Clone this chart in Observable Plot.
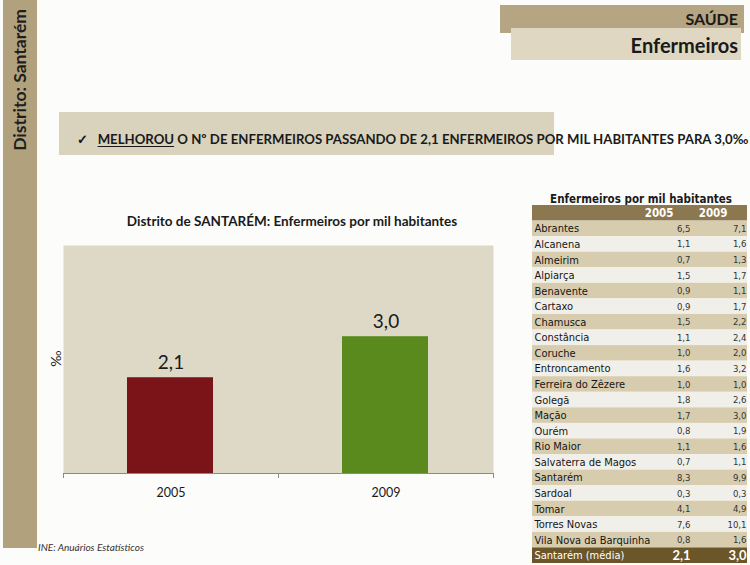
<!DOCTYPE html>
<html>
<head>
<meta charset="utf-8">
<script src="https://cdn.jsdelivr.net/npm/d3@7"></script>
<script src="https://cdn.jsdelivr.net/npm/@observablehq/plot@0.6"></script>
<style>
  html, body { margin: 0; padding: 0; background: #fcfcfa; }
  #page { position: relative; width: 750px; height: 565px; overflow: hidden; font-family: Lato, "Open Sans", sans-serif; color: #1a1a1a; }
  .abs { position: absolute; }
  svg { display: block; max-width: none !important; }
  #strip { left: 3px; top: 0; width: 34px; height: 548px; background: #b1a17d; }
  #stripText { left: 9px; top: 9px; writing-mode: vertical-rl; transform: rotate(180deg); font-weight: 700; font-size: 17.5px; color: #1e1e1e; }
  #box1 { left: 500px; top: 5px; width: 244px; height: 28px; background: #b5a583; }
  #box2 { left: 511px; top: 28px; width: 230px; height: 32px; background: #dfd7c1; }
  #t1 { right: 12px; top: 9px; font-weight: 700; font-size: 16px; }
  #t2 { right: 12px; top: 33px; font-weight: 700; font-size: 20px; }
  #banner { left: 59px; top: 112px; width: 495px; height: 43px; background: #d9d2bc; }
  #bannerText { left: 77px; top: 131px; font-weight: 700; font-size: 13.2px; white-space: nowrap; }
  #bannerText u { text-decoration-thickness: 1px; text-underline-offset: 2px; }
  #chartTitle { left: 30px; width: 524px; top: 213px; text-align: center; font-weight: 700; font-size: 13.5px; }
  #chart { left: 30px; top: 235px; width: 480px; height: 280px; }
  #ylab { left: 47px; top: 350px; transform: rotate(-90deg); font-size: 14px; }
  #caption { left: 38px; top: 541px; font-style: italic; font-size: 10px; color: #333; }
  #tableTitle { left: 532px; width: 218px; top: 192px; text-align: center; font-weight: 700; font-size: 11.5px; font-family: "Liberation Sans Narrow", "DejaVu Sans Condensed", sans-serif; }
  #table { left: 532px; top: 205px; width: 218px; height: 358px; }
</style>
</head>
<body>
<div id="page">
  <div id="strip" class="abs"></div>
  <div id="stripText" class="abs">Distrito: Santarém</div>
  <div id="box1" class="abs"></div>
  <div id="box2" class="abs"></div>
  <div class="abs" style="left:0;top:0;width:750px;height:70px;">
    <div id="t1" class="abs">SAÚDE</div>
    <div id="t2" class="abs">Enfermeiros</div>
  </div>
  <div id="banner" class="abs"></div>
  <div id="bannerText" class="abs">✓&nbsp;&nbsp;&nbsp;<u>MELHOROU</u> O Nº DE ENFERMEIROS PASSANDO DE 2,1 ENFERMEIROS POR MIL HABITANTES PARA 3,0‰</div>
  <div id="chartTitle" class="abs">Distrito de SANTARÉM: Enfermeiros por mil habitantes</div>
  <div id="chart" class="abs"></div>
  <div id="ylab" class="abs">‰</div>
  <div id="caption" class="abs">INE: Anuários Estatísticos</div>
  <div id="tableTitle" class="abs">Enfermeiros por mil habitantes</div>
  <div id="table" class="abs"></div>
</div>
<script>
// ---- Bar chart data ----
const years = ["2005", "2009"];
const districtValues = [2.1, 3.0];
const barColors = ["#7a1418", "#5a8a1d"];

// ---- Table data ----
const municipalities = ["Abrantes", "Alcanena", "Almeirim", "Alpiarça", "Benavente", "Cartaxo", "Chamusca", "Constância", "Coruche", "Entroncamento", "Ferreira do Zêzere", "Golegã", "Mação", "Ourém", "Rio Maior", "Salvaterra de Magos", "Santarém", "Sardoal", "Tomar", "Torres Novas", "Vila Nova da Barquinha"];
const values2005 = [6.5, 1.1, 0.7, 1.5, 0.9, 0.9, 1.5, 1.1, 1.0, 1.6, 1.0, 1.8, 1.7, 0.8, 1.1, 0.7, 8.3, 0.3, 4.1, 7.6, 0.8];
const values2009 = [7.1, 1.6, 1.3, 1.7, 1.1, 1.7, 2.2, 2.4, 2.0, 3.2, 1.0, 2.6, 3.0, 1.9, 1.6, 1.1, 9.9, 0.3, 4.9, 10.1, 1.6];
const meanLabel = "Santarém (média)";
const mean2005 = 2.1;
const mean2009 = 3.0;

const fmt = v => v.toFixed(1).replace(".", ",");
const baseFont = "Lato, 'Open Sans', sans-serif";
const narrow = "'Liberation Sans Narrow', 'DejaVu Sans Condensed', sans-serif";

// ---- Bar chart ----
const bars = years.map((y, i) => ({year: y, i, value: districtValues[i], color: barColors[i]}));
const chart = Plot.plot({
  width: 480, height: 280,
  marginLeft: 33, marginRight: 17, marginTop: 10, marginBottom: 42,
  style: {fontFamily: baseFont, background: "transparent", color: "#1a1a1a"},
  x: {domain: [0, years.length], axis: null},
  y: {domain: [0, 5], axis: null},
  color: {type: "identity"},
  marks: [
    Plot.frame({fill: "#ded8c7", stroke: null}),
    Plot.rectY(bars, {x1: "i", x2: d => d.i + 1, y: "value", fill: "color", insetLeft: 64, insetRight: 65}),
    Plot.text(bars, {x: d => d.i + 0.5, y: "value", text: d => fmt(d.value), dy: -15, fontSize: 19, fill: "#1a1a1a"}),
    Plot.ruleY([0], {stroke: "#8a8a8a"}),
    Plot.axisX({ticks: d3.range(years.length + 1), tickSize: 5, tickFormat: () => "", stroke: "#8a8a8a", label: null}),
    Plot.axisX({ticks: years.map((_, i) => i + 0.5), tickSize: 0, tickPadding: 15, tickFormat: t => years[Math.round(t - 0.5)], fontSize: 12.5, label: null})
  ]
});
document.getElementById("chart").append(chart);

// ---- Table ----
const headerKey = "__header";
const rows = [
  {key: headerKey, kind: "header"},
  ...municipalities.map((m, i) => ({key: m, kind: i % 2 === 0 ? "tan" : "light", v2005: values2005[i], v2009: values2009[i]})),
  {key: meanLabel, kind: "mean", v2005: mean2005, v2009: mean2009}
];
const fills = {header: "#8c7850", tan: "#d8ccae", light: "#f1efe9", mean: "#6b5629"};
const body = rows.filter(r => r.kind === "tan" || r.kind === "light");
const meanRow = rows.filter(r => r.kind === "mean");
const headerRow = rows.filter(r => r.kind === "header");

const table = Plot.plot({
  width: 218, height: 358,
  margin: 0,
  style: {fontFamily: narrow, background: "transparent"},
  y: {type: "band", domain: rows.map(r => r.key), padding: 0, round: false, axis: null},
  color: {type: "identity"},
  marks: [
    Plot.cell(rows, {y: "key", fill: d => fills[d.kind], insetRight: 3, inset: 0}),
    Plot.text(headerRow, {y: "key", text: () => years[0], frameAnchor: "right", dx: -77, fill: "white", fontWeight: "bold", fontSize: 11.5}),
    Plot.text(headerRow, {y: "key", text: () => years[1], frameAnchor: "right", dx: -23, fill: "white", fontWeight: "bold", fontSize: 11.5}),
    Plot.text(body, {y: "key", text: "key", frameAnchor: "left", dx: 2, fill: "#151515", fontSize: 11}),
    Plot.text(body, {y: "key", text: d => fmt(d.v2005), frameAnchor: "right", dx: -60, fill: "#333", fontSize: 9.5}),
    Plot.text(body, {y: "key", text: d => fmt(d.v2009), frameAnchor: "right", dx: -4, fill: "#333", fontSize: 9.5}),
    Plot.text(meanRow, {y: "key", text: "key", frameAnchor: "left", dx: 2, fill: "white", fontSize: 11}),
    Plot.text(meanRow, {y: "key", text: d => fmt(d.v2005), frameAnchor: "right", dx: -60, fill: "white", fontSize: 13, fontWeight: "bold", fontFamily: baseFont}),
    Plot.text(meanRow, {y: "key", text: d => fmt(d.v2009), frameAnchor: "right", dx: -4, fill: "white", fontSize: 13, fontWeight: "bold", fontFamily: baseFont})
  ]
});
document.getElementById("table").append(table);
</script>
</body>
</html>
